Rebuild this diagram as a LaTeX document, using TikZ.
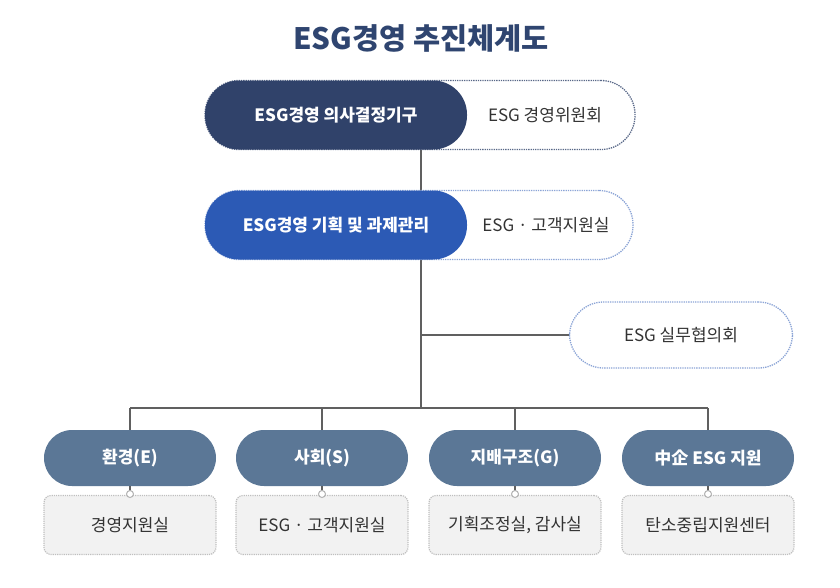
\documentclass[tikz,border=0pt]{standalone}
\usepackage{fontspec}
\setmainfont{Noto Sans CJK KR}
\usetikzlibrary{positioning}
\definecolor{navy}{HTML}{30426A}
\definecolor{royal}{HTML}{2C5AB5}
\definecolor{slate}{HTML}{5B7796}
\definecolor{linegray}{HTML}{606060}
\definecolor{titleblue}{HTML}{2F4570}
\definecolor{ink}{HTML}{333333}
\tikzset{
  pill/.style = {rectangle, rounded corners=34pt, minimum width=262pt, minimum height=69pt, text=white, font=\fontsize{17}{20}\selectfont\bfseries},
  outline/.style = {rectangle, rounded corners=34pt, draw, densely dotted, line width=1.3pt, fill=white, minimum height=69pt, text=ink, font=\fontsize{17}{20}\selectfont},
  unit/.style = {rectangle, rounded corners=28pt, fill=slate, minimum width=172pt, minimum height=56pt, text=white, font=\fontsize{17}{20}\selectfont\bfseries},
  office/.style = {rectangle, rounded corners=7pt, draw=gray!50, densely dotted, line width=1.2pt, fill=gray!10, minimum width=172pt, minimum height=59pt, text=ink, font=\fontsize{17}{20}\selectfont},
  side/.style = {text=ink, font=\fontsize{17}{20}\selectfont},
  link/.style = {draw=linegray, line width=2.6pt},
  knob/.style = {circle, draw=gray!60, fill=white, line width=1pt, inner sep=0pt, minimum size=7pt}
}
\begin{document}
\begin{tikzpicture}[x=1pt, y=-1pt]
    \useasboundingbox (0,0) rectangle (840,587);
    \node[font=\fontsize{29.5}{34}\selectfont\bfseries, text=titleblue] (title) at (421,38) {ESG경영 추진체계도};
    % trunk
    \coordinate (top) at (421,149);
    \coordinate (fork) at (421,408);
    \coordinate (mid) at (421,335);
    \draw[link] (top) -- (fork);
    % decision and planning levels
    \node[outline, draw=navy!80, minimum width=430pt] (comm) at (420,115) {};
    \node[pill, fill=navy] (decide) at (336,115) {ESG경영 의사결정기구};
    \node[side] at (545,115) {ESG 경영위원회};
    \node[outline, draw=royal!55, minimum width=428pt] (cust) at (419,225) {};
    \node[pill, fill=royal] (plan) at (336,225) {ESG경영 기획 및 과제관리};
    \node[side] at (546,225) {ESG · 고객지원실};
    % working council
    \node[outline, draw=royal!55, minimum width=223pt, minimum height=66pt] (council) at (681,335) {ESG 실무협의회};
    \draw[link] (mid) -- (council);
    % branches
    \draw[link] (130,408) -- (708,408);
    \foreach \x/\name/\lbl/\off in {130/env/환경(E)/경영지원실, 322/soc/사회(S)/ESG · 고객지원실, 515/gov/지배구조(G)/{기획조정실, 감사실}, 708/sme/中企 ESG 지원/탄소중립지원센터} {
      \node[unit] (\name) at (\x,458) {\lbl};
      \node[office] (\name-off) at (\x,525) {\off};
      \draw[link] (\x,408) -- (\name);
      \draw[draw=linegray, line width=1.5pt] (\name.south) -- (\x,494);
      \node[knob] at (\x,494) {};
    }
\end{tikzpicture}
\end{document}
